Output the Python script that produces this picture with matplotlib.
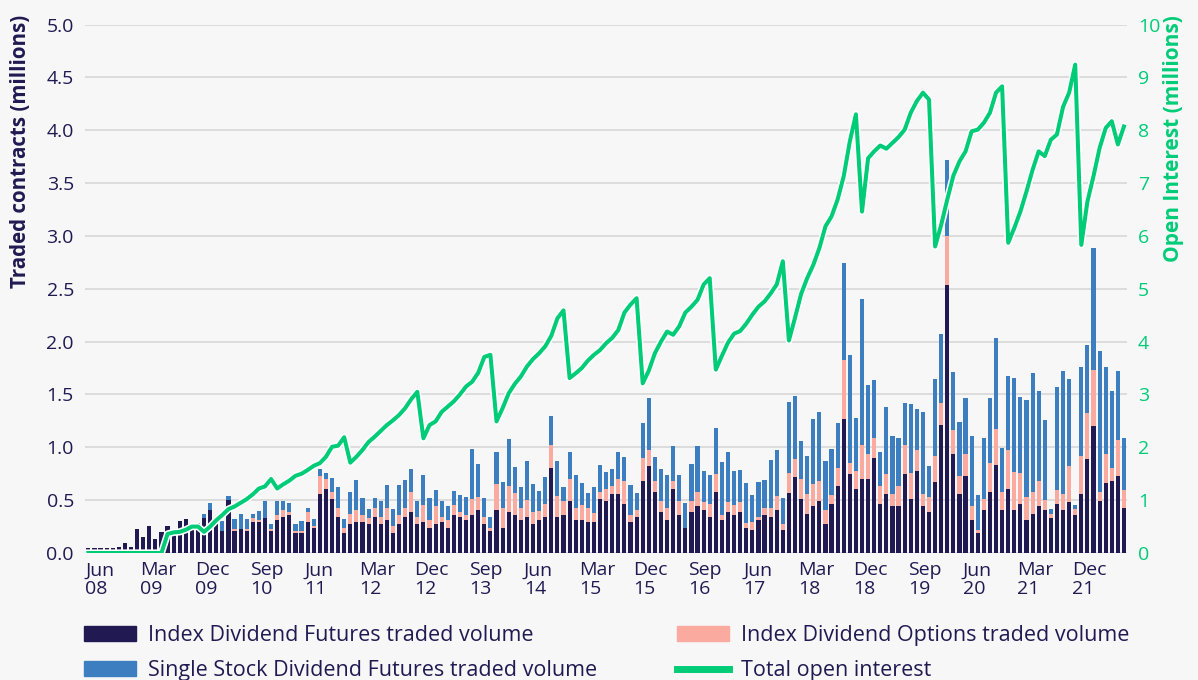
import numpy as np
import matplotlib.pyplot as plt
import matplotlib.patheffects as pe
from matplotlib.patches import Patch
from matplotlib.lines import Line2D

plt.rcParams['font.family'] = ['Open Sans', 'DejaVu Sans']

NAVY = '#211a52'
PINK = '#fbaaa0'
BLUE = '#3d7ec0'
GREEN = '#00cc78'
BG = '#f7f7f7'

# monthly data, Jun 2008 .. Aug 2022 (millions of contracts)
idx_futures = [
    0.045, 0.045, 0.045, 0.045, 0.045, 0.06, 0.09, 0.06, 0.23, 0.15,
    0.26, 0.13, 0.20, 0.26, 0.20, 0.30, 0.32, 0.22, 0.28, 0.33,
    0.41, 0.27, 0.21, 0.50, 0.21, 0.23, 0.21, 0.29, 0.29, 0.33,
    0.21, 0.31, 0.34, 0.36, 0.19, 0.19, 0.29, 0.24, 0.56, 0.61,
    0.51, 0.34, 0.19, 0.27, 0.29, 0.29, 0.27, 0.34, 0.27, 0.31,
    0.19, 0.27, 0.34, 0.39, 0.27, 0.29, 0.24, 0.27, 0.29, 0.24,
    0.36, 0.34, 0.31, 0.36, 0.41, 0.27, 0.21, 0.41, 0.24, 0.39,
    0.36, 0.31, 0.34, 0.27, 0.31, 0.34, 0.80, 0.34, 0.36, 0.49,
    0.31, 0.31, 0.29, 0.29, 0.51, 0.49, 0.56, 0.56, 0.46, 0.29,
    0.34, 0.68, 0.82, 0.58, 0.39, 0.31, 0.61, 0.36, 0.24, 0.39,
    0.44, 0.41, 0.34, 0.58, 0.31, 0.385, 0.36, 0.385, 0.24, 0.22,
    0.31, 0.36, 0.34, 0.41, 0.22, 0.57, 0.72, 0.51, 0.37, 0.44,
    0.49, 0.27, 0.46, 0.63, 1.27, 0.75, 0.61, 0.70, 0.70, 0.90,
    0.46, 0.56, 0.44, 0.44, 0.75, 0.51, 0.78, 0.44, 0.39, 0.675,
    1.21, 2.54, 0.94, 0.56, 0.73, 0.31, 0.19, 0.41, 0.58, 0.83,
    0.41, 0.61, 0.41, 0.46, 0.31, 0.37, 0.44, 0.41, 0.33, 0.46,
    0.41, 0.48, 0.36, 0.56, 0.89, 1.20, 0.49, 0.66, 0.68, 0.73,
    0.43,
]
idx_options = [
    0, 0, 0, 0, 0, 0, 0, 0, 0, 0,
    0, 0, 0, 0, 0, 0, 0, 0, 0, 0,
    0, 0, 0, 0, 0.02, 0, 0.02, 0.04, 0.02, 0,
    0.02, 0.05, 0.07, 0.025, 0.02, 0.02, 0.10, 0.02, 0.17, 0.09,
    0.07, 0.09, 0.05, 0.10, 0.12, 0.07, 0.06, 0.09, 0.07, 0.12,
    0.07, 0.09, 0.09, 0.19, 0.07, 0.16, 0.07, 0.17, 0.05, 0.07,
    0.09, 0.05, 0.05, 0.15, 0.12, 0.07, 0.03, 0.24, 0.19, 0.24,
    0.21, 0.12, 0.16, 0.12, 0.09, 0.12, 0.22, 0.20, 0.13, 0.21,
    0.12, 0.14, 0.14, 0.09, 0.07, 0.12, 0.07, 0.14, 0.22, 0.07,
    0.07, 0.22, 0.15, 0.10, 0.10, 0.12, 0.07, 0.13, 0.0, 0.10,
    0.14, 0.07, 0.12, 0.17, 0.05, 0.10, 0.09, 0.10, 0.04, 0.07,
    0.03, 0.07, 0.09, 0.13, 0.05, 0.19, 0.17, 0.19, 0.19, 0.21,
    0.19, 0.14, 0.09, 0.17, 0.56, 0.10, 0.17, 0.32, 0.24, 0.19,
    0.17, 0.19, 0.12, 0.19, 0.27, 0.25, 0.19, 0.12, 0.14, 0.24,
    0.21, 0.46, 0.22, 0.17, 0.21, 0.13, 0.03, 0.10, 0.27, 0.34,
    0.17, 0.36, 0.36, 0.30, 0.22, 0.21, 0.24, 0.09, 0.04, 0.14,
    0.15, 0.34, 0.06, 0.36, 0.43, 0.53, 0.09, 0.28, 0.12, 0.34,
    0.17,
]
single_stock = [
    0, 0, 0, 0, 0, 0, 0, 0, 0, 0,
    0, 0, 0, 0, 0, 0, 0, 0, 0, 0.04,
    0.06, 0.02, 0.09, 0.04, 0.09, 0.14, 0.09, 0.04, 0.09, 0.16,
    0.04, 0.13, 0.08, 0.085, 0.06, 0.09, 0.035, 0.06, 0.06, 0.06,
    0.13, 0.19, 0.08, 0.21, 0.28, 0.16, 0.09, 0.09, 0.15, 0.21,
    0.16, 0.28, 0.26, 0.21, 0.15, 0.29, 0.21, 0.16, 0.15, 0.13,
    0.14, 0.16, 0.17, 0.47, 0.31, 0.18, 0.10, 0.31, 0.24, 0.45,
    0.24, 0.19, 0.37, 0.26, 0.19, 0.26, 0.28, 0.33, 0.13, 0.26,
    0.31, 0.21, 0.14, 0.24, 0.25, 0.16, 0.16, 0.26, 0.23, 0.28,
    0.16, 0.33, 0.50, 0.23, 0.30, 0.31, 0.33, 0.25, 0.23, 0.35,
    0.43, 0.30, 0.28, 0.43, 0.50, 0.47, 0.33, 0.30, 0.38, 0.26,
    0.33, 0.26, 0.45, 0.43, 0.25, 0.67, 0.60, 0.36, 0.36, 0.62,
    0.65, 0.46, 0.43, 0.43, 0.91, 1.02, 0.50, 1.38, 0.65, 0.55,
    0.33, 0.63, 0.55, 0.46, 0.40, 0.65, 0.39, 0.77, 0.29, 0.73,
    0.65, 0.72, 0.55, 0.51, 0.53, 0.67, 0.33, 0.58, 0.62, 0.86,
    0.41, 0.70, 0.89, 0.72, 0.92, 1.12, 0.85, 0.76, 0.05, 0.97,
    1.16, 0.83, 0.03, 0.84, 0.65, 1.16, 1.33, 0.82, 0.73, 0.65,
    0.49,
]
# total open interest (millions)
open_interest = [
    0, 0, 0, 0, 0, 0, 0, 0, 0, 0,
    0, 0, 0, 0.36, 0.39, 0.40, 0.44, 0.50, 0.50, 0.40,
    0.50, 0.62, 0.72, 0.83, 0.88, 0.95, 1.02, 1.11, 1.22, 1.26,
    1.40, 1.22, 1.30, 1.37, 1.46, 1.50, 1.57, 1.65, 1.70, 1.82,
    2.01, 2.03, 2.19, 1.71, 1.82, 1.95, 2.10, 2.20, 2.31, 2.42,
    2.51, 2.61, 2.74, 2.91, 3.05, 2.17, 2.42, 2.49, 2.67, 2.77,
    2.87, 3.00, 3.15, 3.24, 3.41, 3.71, 3.75, 2.49, 2.74, 3.02,
    3.20, 3.34, 3.53, 3.67, 3.78, 3.91, 4.11, 4.44, 4.59, 3.31,
    3.40, 3.50, 3.64, 3.75, 3.84, 3.97, 4.07, 4.22, 4.55, 4.70,
    4.82, 3.21, 3.45, 3.78, 4.00, 4.19, 4.13, 4.29, 4.55, 4.66,
    4.79, 5.08, 5.20, 3.47, 3.73, 3.98, 4.15, 4.20, 4.34, 4.51,
    4.66, 4.76, 4.91, 5.08, 5.52, 4.02, 4.45, 4.90, 5.20, 5.45,
    5.77, 6.18, 6.37, 6.69, 7.13, 7.79, 8.30, 6.46, 7.47, 7.60,
    7.71, 7.65, 7.76, 7.87, 8.01, 8.33, 8.55, 8.71, 8.58, 5.80,
    6.21, 6.69, 7.14, 7.41, 7.60, 7.98, 8.01, 8.14, 8.33, 8.71,
    8.83, 5.87, 6.15, 6.46, 6.84, 7.25, 7.60, 7.51, 7.82, 7.92,
    8.44, 8.71, 9.24, 5.83, 6.65, 7.13, 7.66, 8.04, 8.17, 7.73,
    8.07,
]
tick_labels = ['Jun\n08', 'Mar\n09', 'Dec\n09', 'Sep\n10', 'Jun\n11', 'Mar\n12',
               'Dec\n12', 'Sep\n13', 'Jun\n14', 'Mar\n15', 'Dec\n15', 'Sep\n16',
               'Jun\n17', 'Mar\n18', 'Dec\n18', 'Sep\n19', 'Jun\n20', 'Mar\n21',
               'Dec\n21']

fut = np.array(idx_futures)
opt = np.array(idx_options)
ss = np.array(single_stock)
x = np.arange(len(fut))

fig = plt.figure(figsize=(11.98, 6.8), dpi=100, facecolor=BG)
ax = fig.add_axes([85 / 1198, 1 - 553 / 680, (1127 - 85) / 1198, (553 - 24.5) / 680])
ax.set_facecolor(BG)

ax.bar(x, fut, width=0.68, color=NAVY, linewidth=0)
ax.bar(x, opt, width=0.68, bottom=fut, color=PINK, linewidth=0)
ax.bar(x, ss, width=0.68, bottom=fut + opt, color=BLUE, linewidth=0)

ax.set_xlim(-0.55, len(x) - 0.5)
ax.set_ylim(0, 5)
ax.set_yticks(np.arange(0, 5.01, 0.5))
ax.set_yticklabels([f'{v:.1f}' for v in np.arange(0, 5.01, 0.5)])
ax.grid(axis='y', color='#dcdcdc', lw=1.4)
ax.set_axisbelow(True)
for s in ax.spines.values():
    s.set_visible(False)

ax.set_xticks(np.arange(0, len(x), 9)[:len(tick_labels)] - 0.5)
ax.set_xticklabels(tick_labels, ha='left', linespacing=1.05)
ax.tick_params(axis='x', length=0, pad=6, labelsize=14, labelcolor=NAVY)
ax.tick_params(axis='y', length=0, pad=8, labelsize=14, labelcolor=NAVY)

ax2 = ax.twinx()
ax2.plot(x, open_interest, color=GREEN, lw=2.9,
         path_effects=[pe.Stroke(linewidth=5.2, foreground='white'), pe.Normal()])
ax2.set_ylim(0, 10)
ax2.set_yticks(range(0, 11))
ax2.tick_params(axis='y', length=0, pad=8, labelsize=14, labelcolor=GREEN)
for s in ax2.spines.values():
    s.set_visible(False)

fig.text(21 / 1198, 1 - 15 / 680, 'Traded contracts (millions)', rotation=90,
         ha='center', va='top', fontsize=14.8, fontweight='bold', color=NAVY)
fig.text(1173 / 1198, 1 - 15 / 680, 'Open Interest (millions)', rotation=90,
         ha='center', va='top', fontsize=15, fontweight='bold', color=GREEN)

handles = [Patch(color=NAVY), Patch(color=BLUE), Patch(color=PINK),
           Line2D([], [], color=GREEN, lw=5)]
labels = ['Index Dividend Futures traded volume',
          'Single Stock Dividend Futures traded volume',
          'Index Dividend Options traded volume',
          'Total open interest']
fig.legend(handles, labels, ncol=2, loc='upper left',
           bbox_to_anchor=(84 / 1198, 1 - 625 / 680), frameon=False,
           fontsize=15.5, labelcolor=NAVY, handlelength=2.42, handleheight=0.7,
           handletextpad=0.56, columnspacing=3.7, labelspacing=0.66,
           borderpad=0, borderaxespad=0)

fig.savefig('out.png', dpi=100, facecolor=BG)
